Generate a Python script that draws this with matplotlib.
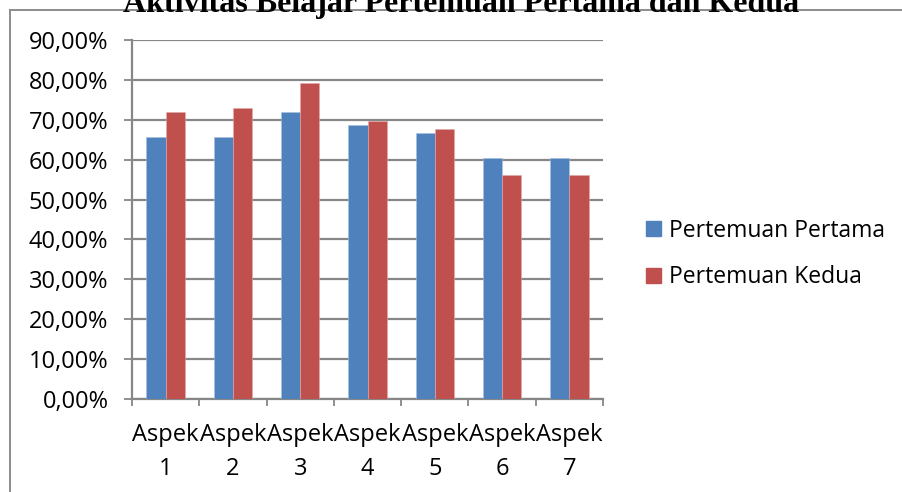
import matplotlib
matplotlib.use("Agg")
import matplotlib.pyplot as plt
from matplotlib.lines import Line2D
import numpy as np

# Data: percentage of learning activity per aspect
categories = ["Aspek\n1", "Aspek\n2", "Aspek\n3", "Aspek\n4", "Aspek\n5", "Aspek\n6", "Aspek\n7"]
pertemuan_pertama = [65.63, 65.63, 71.88, 68.75, 66.67, 60.42, 60.42]
pertemuan_kedua = [71.88, 72.92, 79.17, 69.79, 67.71, 56.25, 56.25]
series_names = ["Pertemuan Pertama", "Pertemuan Kedua"]
y_ticks = [0, 10, 20, 30, 40, 50, 60, 70, 80, 90]
title = "Aktivitas Belajar Pertemuan Pertama dan Kedua"

BLUE = "#4F81BD"
RED = "#C0504D"
GRID = "#878787"
FONT = "Open Sans"

W, H = 903, 492
fig = plt.figure(figsize=(W / 100, H / 100), dpi=100)
fig.patch.set_facecolor("white")

# plot area in pixel coordinates
left, right, top, bottom = 132, 603, 40, 399
ax = fig.add_axes([left / W, 1 - bottom / H, (right - left) / W, (bottom - top) / H])

x = np.arange(len(categories))
bw = 1 / 3.5
ax.bar(x - bw / 2, pertemuan_pertama, bw, color=BLUE, label=series_names[0],
       edgecolor="#A7C0DE", linewidth=0.4, zorder=3)
ax.bar(x + bw / 2, pertemuan_kedua, bw, color=RED, label=series_names[1],
       edgecolor="#E0A9A8", linewidth=0.4, zorder=3)

ax.set_xlim(-0.5, len(categories) - 0.5)
ax.set_ylim(0, 90)

# y axis
ax.set_yticks(y_ticks)
ax.set_yticklabels([f"{v:.2f}%".replace(".", ",") for v in y_ticks],
                   fontfamily=FONT, fontsize=17)
ax.yaxis.grid(True, color=GRID, linewidth=1.6, zorder=0)
ax.tick_params(axis="y", direction="out", length=6, width=1.3, color=GRID, pad=11)

# x axis: labels at centres, tick marks on category boundaries
ax.set_xticks(x)
ax.set_xticklabels(categories, fontfamily=FONT, fontsize=17, linespacing=1.55)
ax.set_xticks(np.arange(len(categories) + 1) - 0.5, minor=True)
ax.tick_params(axis="x", which="major", length=0, pad=17)
ax.tick_params(axis="x", which="minor", direction="out", length=5, width=1.3, color=GRID)

for side in ("top", "right"):
    ax.spines[side].set_visible(False)
for side in ("left", "bottom"):
    ax.spines[side].set_color(GRID)
    ax.spines[side].set_linewidth(1.6)
ax.set_axisbelow(True)

# legend
handles = [plt.Rectangle((0, 0), 1, 1, color=BLUE), plt.Rectangle((0, 0), 1, 1, color=RED)]
fig.legend(handles, series_names, loc="center left",
           bbox_to_anchor=(625 / W, 1 - 254 / H), frameon=False,
           prop={"family": FONT, "size": 16.5}, handlelength=0.68, handleheight=0.68,
           handletextpad=0.35, labelspacing=1.0)

# chart frame (top and left edges)
fig.add_artist(Line2D([10.5 / W, 1], [1 - 10 / H, 1 - 10 / H], color="#8C8C8C", linewidth=1.4))
fig.add_artist(Line2D([10.5 / W, 10.5 / W], [0, 1 - 10 / H], color="#8C8C8C", linewidth=1.4))

# title, sitting just above the chart frame
fig.text(461 / W, 1 - 12 / H, title, ha="center", va="baseline",
         fontfamily="Liberation Serif", fontweight="bold", fontsize=23)

fig.savefig("out.png", dpi=100)
